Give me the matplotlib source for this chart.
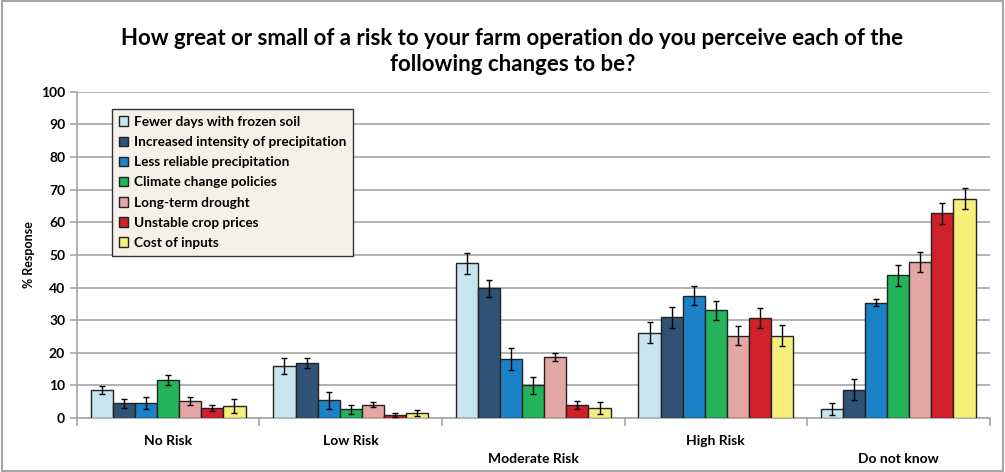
import matplotlib.pyplot as plt
import matplotlib.transforms as mtransforms
from matplotlib.patches import Rectangle
import numpy as np

plt.rcParams['font.family'] = ['Lato', 'DejaVu Sans']

categories = ['No Risk', 'Low Risk', 'Moderate Risk', 'High Risk', 'Do not know']
series = ['Fewer days with frozen soil',
          'Increased intensity of precipitation',
          'Less reliable precipitation',
          'Climate change policies',
          'Long-term drought',
          'Unstable crop prices',
          'Cost of inputs']
colors = ['#C6E5EE', '#2F5275', '#1C82C8', '#23B35B', '#E3A8A6', '#D0202A', '#F6F07A']

# values per series, one per category
values = [
    [8.6, 16.0, 47.5, 26.2, 2.7],
    [4.5, 16.8, 39.8, 30.9, 8.7],
    [4.5, 5.4, 18.0, 37.5, 35.4],
    [11.6, 2.7, 10.0, 33.0, 43.7],
    [5.2, 4.1, 18.6, 25.2, 47.8],
    [3.0, 0.9, 3.9, 30.6, 62.8],
    [3.6, 1.5, 3.1, 25.2, 67.3],
]
errors = [
    [1.3, 2.5, 3.2, 3.1, 1.8],
    [1.4, 1.6, 2.6, 3.2, 3.2],
    [1.8, 2.5, 3.4, 2.9, 1.1],
    [1.5, 1.4, 2.6, 2.9, 3.3],
    [1.2, 0.7, 1.2, 2.9, 3.1],
    [1.0, 0.5, 1.2, 3.0, 3.2],
    [2.1, 1.0, 1.9, 3.2, 3.3],
]

fig = plt.figure(figsize=(10.05, 4.72), dpi=100)
ax = fig.add_axes([0.0766, 0.1144, 0.908, 0.691])

x = np.arange(len(categories))
w = 0.121
for i in range(len(series)):
    pos = x + (i - 3) * w
    ax.bar(pos, values[i], width=w, color=colors[i], edgecolor='#222222',
           linewidth=1.0, label=series[i], zorder=3)
    ax.errorbar(pos, values[i], yerr=errors[i], fmt='none', ecolor='black',
                elinewidth=1.0, capsize=2.5, capthick=1.0, zorder=4)

ax.set_xlim(-0.5, len(categories) - 0.5)
ax.set_ylim(0, 100)
ax.set_yticks(range(0, 101, 10))
ax.yaxis.grid(True, color='#A6A6A6', linewidth=1.2, zorder=0)
ax.set_axisbelow(True)

for s in ['top', 'right']:
    ax.spines[s].set_visible(False)
ax.spines['left'].set_color('#A6A6A6')
ax.spines['bottom'].set_color('#A6A6A6')
ax.spines['left'].set_linewidth(1.2)
ax.spines['bottom'].set_linewidth(1.2)

ax.set_xticks(np.arange(-0.5, len(categories)), minor=False)
ax.set_xticklabels([])
ax.tick_params(axis='x', length=6, color='#A6A6A6', width=1.2)
ax.tick_params(axis='y', length=5, color='#A6A6A6', width=1.2, labelsize=10)
for lab in ax.get_yticklabels():
    lab.set_fontweight('bold')

trans = mtransforms.blended_transform_factory(ax.transData, ax.transAxes)
rows = [0, 0, 1, 0, 1]
for xi, name, r in zip(x, categories, rows):
    yoff = -0.072 if r == 0 else -0.125
    ax.text(xi, yoff, name, transform=trans, ha='center', va='center',
            fontsize=10, fontweight='bold')

ax.set_ylabel('% Response', fontsize=9, fontweight='bold', labelpad=4)

leg = ax.legend(loc='upper left', bbox_to_anchor=(0.031, 0.968), frameon=True,
                fancybox=False, prop={'weight': 'bold', 'size': 9.8},
                handlelength=0.7, handleheight=0.7, handletextpad=0.4,
                labelspacing=0.6, borderpad=0.5)
leg.get_frame().set_facecolor('#F3F1E9')
leg.get_frame().set_edgecolor('#333333')
leg.get_frame().set_linewidth(1.0)
leg.get_frame().set_alpha(1)

fig.suptitle('How great or small of a risk to your farm operation do you perceive each of the\n'
             'following changes to be?', x=0.51, y=0.94, fontsize=16,
             fontweight='bold', linespacing=1.3)

fig.patches.append(Rectangle((0.002, 0.002), 0.996, 0.996, transform=fig.transFigure,
                             fill=False, edgecolor='#A6A6A6', linewidth=1.5))

fig.savefig('out.png', dpi=100)
